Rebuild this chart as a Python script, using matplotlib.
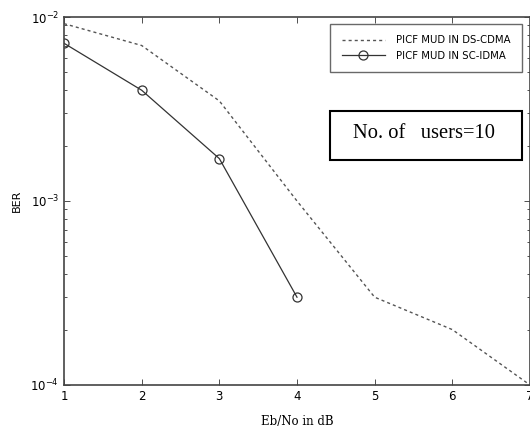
import matplotlib
matplotlib.use("Agg")
import matplotlib.pyplot as plt
from matplotlib.patches import Rectangle
from matplotlib.ticker import LogLocator, NullFormatter

# Eb/No (dB) against BER
ebno_ds = [1, 2, 3, 4, 5, 6, 7]
ber_ds = [0.0092, 0.0070, 0.0035, 0.0010, 0.0003, 0.0002, 0.0001]

ebno_sc = [1, 2, 3, 4]
ber_sc = [0.0072, 0.0040, 0.0017, 0.0003]

x_ticks = [1, 2, 3, 4, 5, 6, 7]

W, H = 530, 443
fig = plt.figure(figsize=(W / 100, H / 100), dpi=100)
ax = fig.add_axes([64 / W, 1 - 385 / H, 1 - 64 / W, (385 - 17) / H])

ax.semilogy(ebno_ds, ber_ds, linestyle=(0, (2.2, 2.2)), color="#555555",
            linewidth=1.0, label="PICF MUD IN DS-CDMA")
ax.semilogy(ebno_sc, ber_sc, linestyle="-", color="#333333", linewidth=0.9,
            marker="o", markersize=6.5, markerfacecolor="none",
            markeredgecolor="#333333", markeredgewidth=0.9,
            label="PICF MUD IN SC-IDMA")

ax.set_xlim(1, 7)
ax.set_ylim(1e-4, 1e-2)
ax.set_xticks(x_ticks)
ax.yaxis.set_major_locator(LogLocator(base=10, numticks=10))
ax.yaxis.set_minor_locator(LogLocator(base=10, subs=range(2, 10), numticks=10))
ax.yaxis.set_minor_formatter(NullFormatter())

ax.tick_params(which="both", direction="in", top=True, right=True,
               labelsize=8.5, width=0.6, color="#333333")
ax.tick_params(which="major", length=4)
ax.tick_params(which="minor", length=2.5)
for sp in ax.spines.values():
    sp.set_linewidth(1.2)
    sp.set_color("#444444")

ax.set_xlabel("Eb/No in dB", family="DejaVu Serif", fontsize=8.5, labelpad=9)
ax.set_ylabel("BER", fontsize=8, labelpad=6)

# legend box: right edge ~x=522, top ~y=24 (pixels)
leg = ax.legend(loc="upper right", bbox_to_anchor=(522 / W, 1 - 24 / H),
                bbox_transform=fig.transFigure, borderaxespad=0,
                fontsize=7.3, frameon=True, fancybox=False, edgecolor="#444444",
                handlelength=4.3, handletextpad=1.1, borderpad=1.1,
                labelspacing=0.55)
leg.get_frame().set_linewidth(1.0)

# annotation box, pixels 330..522 x 111..160
fig.patches.append(Rectangle((330 / W, 1 - 160 / H), 192 / W, 49 / H,
                             transform=fig.transFigure, facecolor="white",
                             edgecolor="black", linewidth=1.5, zorder=5))
fig.text(424 / W, 1 - 134 / H, "No. of   users=10",
         ha="center", va="center", family="Liberation Serif", fontsize=14.8,
         zorder=6)

fig.savefig("out.png", dpi=100)
